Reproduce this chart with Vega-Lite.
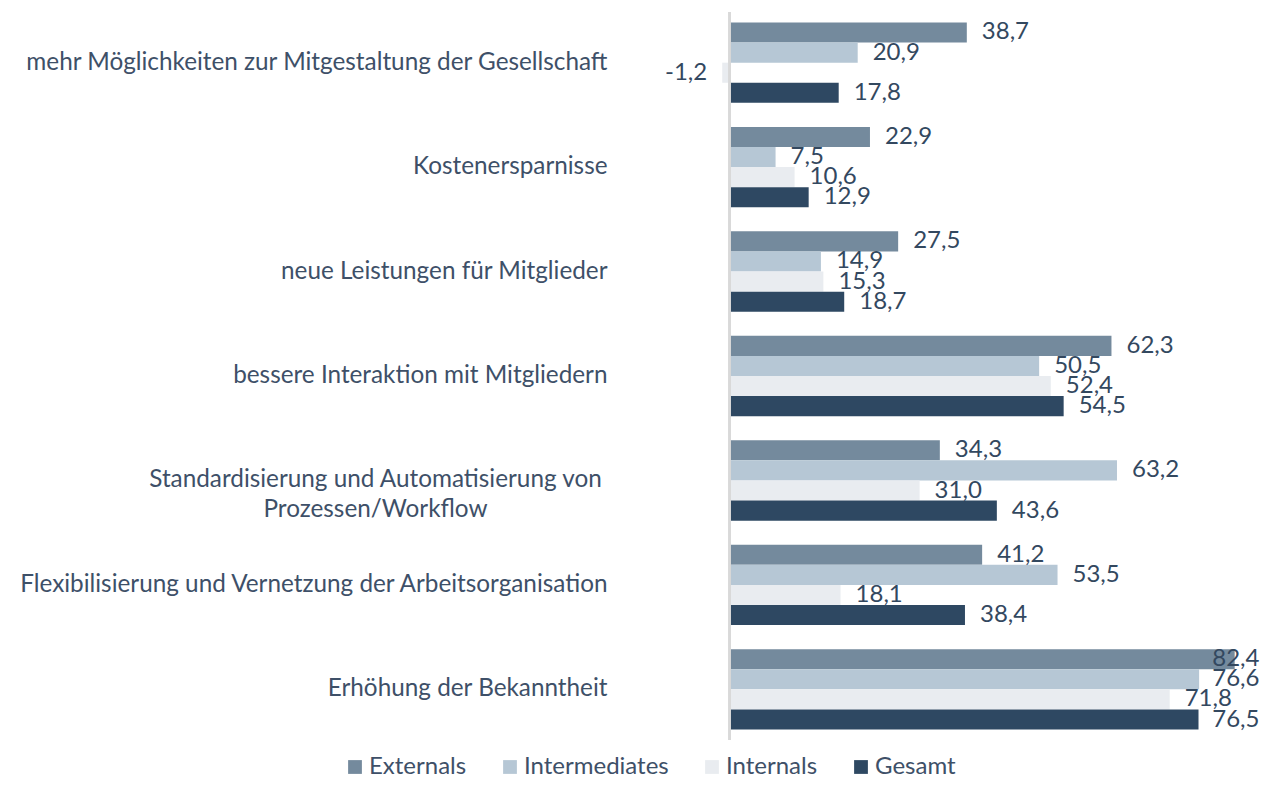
{
  "$schema": "https://vega.github.io/schema/vega-lite/v6.json",
  "autosize": "none",
  "width": 662,
  "height": 728,
  "padding": {"left": 607, "top": 12, "right": 8, "bottom": 63},
  "background": "white",
  "config": {
    "view": {"stroke": null},
    "font": "Lato",
    "locale": {"number": {"decimal": ",", "thousands": ".", "grouping": [3], "currency": ["", " €"], "minus": "-"}}
  },
  "data": {
    "values": [
      {"c": "mehr Möglichkeiten zur Mitgestaltung der Gesellschaft", "g": "Externals", "v": 38.7},
      {"c": "mehr Möglichkeiten zur Mitgestaltung der Gesellschaft", "g": "Intermediates", "v": 20.9},
      {"c": "mehr Möglichkeiten zur Mitgestaltung der Gesellschaft", "g": "Internals", "v": -1.2},
      {"c": "mehr Möglichkeiten zur Mitgestaltung der Gesellschaft", "g": "Gesamt", "v": 17.8},
      {"c": "Kostenersparnisse", "g": "Externals", "v": 22.9},
      {"c": "Kostenersparnisse", "g": "Intermediates", "v": 7.5},
      {"c": "Kostenersparnisse", "g": "Internals", "v": 10.6},
      {"c": "Kostenersparnisse", "g": "Gesamt", "v": 12.9},
      {"c": "neue Leistungen für Mitglieder", "g": "Externals", "v": 27.5},
      {"c": "neue Leistungen für Mitglieder", "g": "Intermediates", "v": 14.9},
      {"c": "neue Leistungen für Mitglieder", "g": "Internals", "v": 15.3},
      {"c": "neue Leistungen für Mitglieder", "g": "Gesamt", "v": 18.7},
      {"c": "bessere Interaktion mit Mitgliedern", "g": "Externals", "v": 62.3},
      {"c": "bessere Interaktion mit Mitgliedern", "g": "Intermediates", "v": 50.5},
      {"c": "bessere Interaktion mit Mitgliedern", "g": "Internals", "v": 52.4},
      {"c": "bessere Interaktion mit Mitgliedern", "g": "Gesamt", "v": 54.5},
      {"c": "Standardisierung und Automatisierung von Prozessen/Workflow", "g": "Externals", "v": 34.3},
      {"c": "Standardisierung und Automatisierung von Prozessen/Workflow", "g": "Intermediates", "v": 63.2},
      {"c": "Standardisierung und Automatisierung von Prozessen/Workflow", "g": "Internals", "v": 31.0},
      {"c": "Standardisierung und Automatisierung von Prozessen/Workflow", "g": "Gesamt", "v": 43.6},
      {"c": "Flexibilisierung und Vernetzung der Arbeitsorganisation", "g": "Externals", "v": 41.2},
      {"c": "Flexibilisierung und Vernetzung der Arbeitsorganisation", "g": "Intermediates", "v": 53.5},
      {"c": "Flexibilisierung und Vernetzung der Arbeitsorganisation", "g": "Internals", "v": 18.1},
      {"c": "Flexibilisierung und Vernetzung der Arbeitsorganisation", "g": "Gesamt", "v": 38.4},
      {"c": "Erhöhung der Bekanntheit", "g": "Externals", "v": 82.4},
      {"c": "Erhöhung der Bekanntheit", "g": "Intermediates", "v": 76.6},
      {"c": "Erhöhung der Bekanntheit", "g": "Internals", "v": 71.8},
      {"c": "Erhöhung der Bekanntheit", "g": "Gesamt", "v": 76.5}
    ]
  },
  "encoding": {
    "y": {
      "field": "c",
      "type": "nominal",
      "sort": null,
      "scale": {"paddingInner": 0.23, "paddingOuter": 0.1},
      "axis": {
        "title": null,
        "domain": false,
        "ticks": false,
        "grid": false,
        "labelFont": "Lato",
        "labelFontSize": 24.3,
        "labelColor": "#3E5068",
        "labelLimit": 700,
        "labelLineHeight": 30,
        "labelPadding": {"condition": {"test": "datum.value === 'Standardisierung und Automatisierung von Prozessen/Workflow'", "value": 232}, "value": 0},
        "labelAlign": {"condition": {"test": "datum.value === 'Standardisierung und Automatisierung von Prozessen/Workflow'", "value": "center"}, "value": "right"},
        "labelExpr": "datum.label === 'Standardisierung und Automatisierung von Prozessen/Workflow' ? ['Standardisierung und Automatisierung von', 'Prozessen/Workflow'] : datum.label"
      }
    },
    "yOffset": {"field": "g", "type": "nominal", "sort": ["Externals", "Intermediates", "Internals", "Gesamt"]}
  },
  "layer": [
    {
      "mark": {"type": "bar"},
      "encoding": {
        "x": {"field": "v", "type": "quantitative", "scale": {"domain": [-20, 88], "nice": false, "zero": false}, "axis": null},
        "color": {
          "field": "g",
          "type": "nominal",
          "sort": ["Externals", "Intermediates", "Internals", "Gesamt"],
          "scale": {"domain": ["Externals", "Intermediates", "Internals", "Gesamt"], "range": ["#748A9D", "#B6C7D5", "#E9ECF0", "#2E4862"]},
          "legend": {
            "title": null,
            "orient": "none",
            "direction": "horizontal",
            "legendX": -264,
            "legendY": 743,
            "symbolType": "square",
            "symbolSize": 190,
            "symbolStrokeWidth": 0,
            "labelFont": "Lato",
            "labelFontSize": 24,
            "labelColor": "#3E5068",
            "labelOffset": 2,
            "columnPadding": 31
          }
        }
      }
    },
    {
      "mark": {"type": "rule", "color": "#D9D9D9", "strokeWidth": 1.5},
      "encoding": {"x": {"datum": 0}, "yOffset": null, "y": null}
    },
    {
      "transform": [
        {"filter": "datum.v >= 0"},
        {"calculate": "min(datum.v, 76.3)", "as": "lx"}
      ],
      "mark": {"type": "text", "align": "left", "baseline": "middle", "dx": 15, "fontSize": 24, "font": "Lato", "color": "#33485F"},
      "encoding": {
        "x": {"field": "lx", "type": "quantitative"},
        "text": {"field": "v", "type": "quantitative", "format": ".1f"}
      }
    },
    {
      "transform": [{"filter": "datum.v < 0"}],
      "mark": {"type": "text", "align": "right", "baseline": "middle", "dx": -15, "fontSize": 24, "font": "Lato", "color": "#33485F"},
      "encoding": {
        "x": {"field": "v", "type": "quantitative"},
        "text": {"field": "v", "type": "quantitative", "format": ".1f"}
      }
    }
  ]
}
